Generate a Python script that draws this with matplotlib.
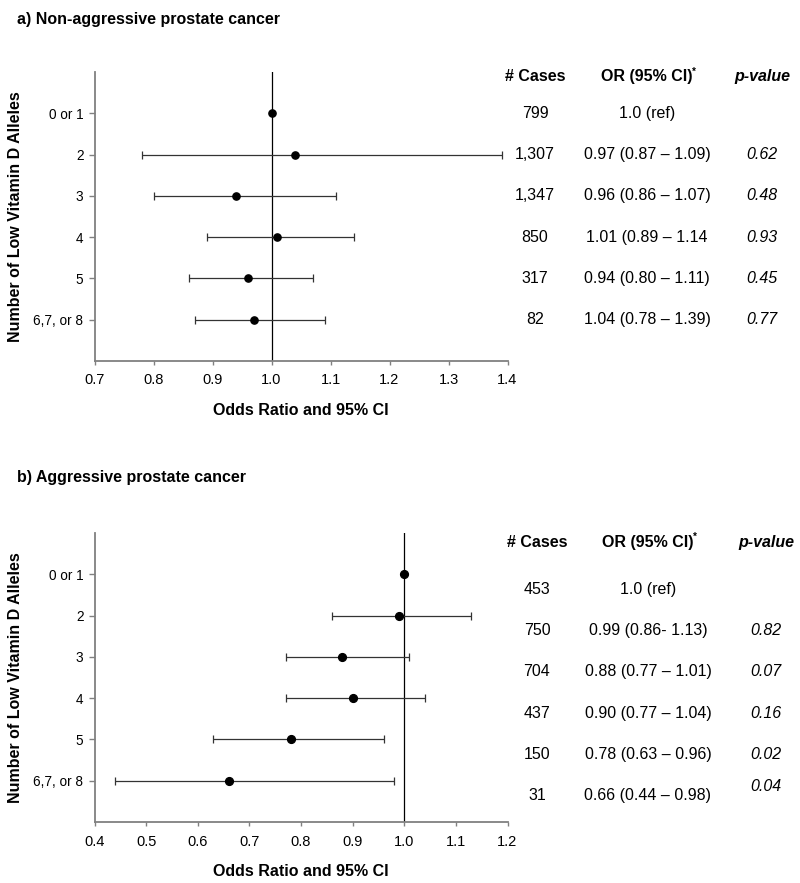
import numpy as np
import matplotlib
matplotlib.use("Agg")
import matplotlib.pyplot as plt
from matplotlib.transforms import blended_transform_factory

plt.rcParams["font.family"] = ["Liberation Sans", "DejaVu Sans"]

rows = ["0 or 1", "2", "3", "4", "5", "6,7, or 8"]

# panel a: values as drawn in the plot
a_or = [1.0, 1.04, 0.94, 1.01, 0.96, 0.97]
a_lo = [np.nan, 0.78, 0.80, 0.89, 0.86, 0.87]
a_hi = [np.nan, 1.39, 1.11, 1.14, 1.07, 1.09]
a_cases = ["799", "1,307", "1,347", "850", "317", "82"]
a_ci_text = ["1.0 (ref)", "0.97 (0.87 \u2013 1.09)", "0.96 (0.86 \u2013 1.07)",
             "1.01 (0.89 \u2013 1.14", "0.94 (0.80 \u2013 1.11)", "1.04 (0.78 \u2013 1.39)"]
a_p = ["", "0.62", "0.48", "0.93", "0.45", "0.77"]
a_ticks = [0.7, 0.8, 0.9, 1.0, 1.1, 1.2, 1.3, 1.4]

# panel b
b_or = [1.0, 0.99, 0.88, 0.90, 0.78, 0.66]
b_lo = [np.nan, 0.86, 0.77, 0.77, 0.63, 0.44]
b_hi = [np.nan, 1.13, 1.01, 1.04, 0.96, 0.98]
b_cases = ["453", "750", "704", "437", "150", "31"]
b_ci_text = ["1.0 (ref)", "0.99 (0.86- 1.13)", "0.88 (0.77 \u2013 1.01)",
             "0.90 (0.77 \u2013 1.04)", "0.78 (0.63 \u2013 0.96)", "0.66 (0.44 \u2013 0.98)"]
b_p = ["", "0.82", "0.07", "0.16", "0.02", "0.04"]
b_ticks = [0.4, 0.5, 0.6, 0.7, 0.8, 0.9, 1.0, 1.1, 1.2]

W, H = 800, 883
SPINE = "#808080"
BAR = "#333333"


def draw_panel(fig, ax, ors, lo, hi, cases, ci_text, pvals, ticks,
               msize, text_dy, head_y, cols, p_dy=None):
    y = np.arange(1, len(rows) + 1)
    ors = np.array(ors)
    lo = np.array(lo)
    hi = np.array(hi)
    has_ci = ~np.isnan(lo)

    ax.axvline(1.0, color="black", lw=0.9, zorder=1)
    ax.errorbar(ors[has_ci], y[has_ci],
                xerr=[ors[has_ci] - lo[has_ci], hi[has_ci] - ors[has_ci]],
                fmt="none", ecolor=BAR, elinewidth=0.9, capsize=3.2,
                capthick=0.9, zorder=2)
    ax.plot(ors, y, "o", color="black", ms=msize, zorder=3)

    ax.set_xlim(ticks[0], ticks[-1])
    ax.set_ylim(7, 0)
    ax.set_xticks(ticks)
    ax.set_xticklabels([f"{t:.1f}" for t in ticks])
    ax.set_yticks(y)
    ax.set_yticklabels(rows)
    for s in ["top", "right"]:
        ax.spines[s].set_visible(False)
    for s in ["left", "bottom"]:
        ax.spines[s].set_color(SPINE)
        ax.spines[s].set_linewidth(1.3)
    ax.tick_params(axis="x", length=3, width=1, color=SPINE, pad=6,
                   labelsize=10.5)
    ax.tick_params(axis="y", length=4, width=1, color=SPINE, pad=4,
                   labelsize=9.8)
    ax.set_xlabel("Odds Ratio and 95% CI", fontsize=11.5,
                  fontweight="bold", labelpad=11)
    ax.set_ylabel("Number of Low Vitamin D Alleles", fontsize=11.5,
                  fontweight="bold")
    ax.yaxis.set_label_coords(-0.172, 0.5)

    tr = blended_transform_factory(fig.transFigure, ax.transData)
    xc, xo, xp = [c / W for c in cols]
    ax.text(xc, head_y, "# Cases", transform=tr, ha="center", va="center",
            fontsize=11.5, fontweight="bold")
    ax.text(xo, head_y, "OR (95% CI)", transform=tr, ha="center",
            va="center", fontsize=11.5, fontweight="bold")
    ax.text(xo + 47 / W, head_y - 0.12, "*", transform=tr, ha="center",
            va="center", fontsize=7, fontweight="bold")
    ax.text(xp, head_y, "p-value", transform=tr, ha="center", va="center",
            fontsize=11.5, fontweight="bold", style="italic")
    for i in range(len(rows)):
        yy = y[i] + text_dy
        ax.text(xc, yy, cases[i], transform=tr, ha="center", va="center",
                fontsize=11.5)
        ax.text(xo, yy, ci_text[i], transform=tr, ha="center", va="center",
                fontsize=11.5)
        py = yy if p_dy is None else y[i] + p_dy[i]
        ax.text(xp, py, pvals[i], transform=tr, ha="center", va="center",
                fontsize=11.5, style="italic")


fig = plt.figure(figsize=(W / 100, H / 100), dpi=100)
left = 94.5 / W
width = (507.5 - 94.5) / W
ax_a = fig.add_axes([left, 1 - 361 / H, width, 289 / H])
ax_b = fig.add_axes([left, 1 - 822 / H, width, 289 / H])

draw_panel(fig, ax_a, a_or, a_lo, a_hi, a_cases, a_ci_text, a_p, a_ticks,
           msize=5.2, text_dy=0.0, head_y=0.12, cols=(535, 647, 762))
draw_panel(fig, ax_b, b_or, b_lo, b_hi, b_cases, b_ci_text, b_p, b_ticks,
           msize=5.6, text_dy=0.36, head_y=0.22, cols=(537, 648, 766),
           p_dy=[0.36, 0.36, 0.36, 0.36, 0.36, 0.15])

fig.text(17 / W, 1 - 24 / H, "a) Non-aggressive prostate cancer",
         fontsize=11.5, fontweight="bold", va="baseline")
fig.text(17 / W, 1 - 482 / H, "b) Aggressive prostate cancer",
         fontsize=11.5, fontweight="bold", va="baseline")

fig.savefig("out.png", dpi=100)
